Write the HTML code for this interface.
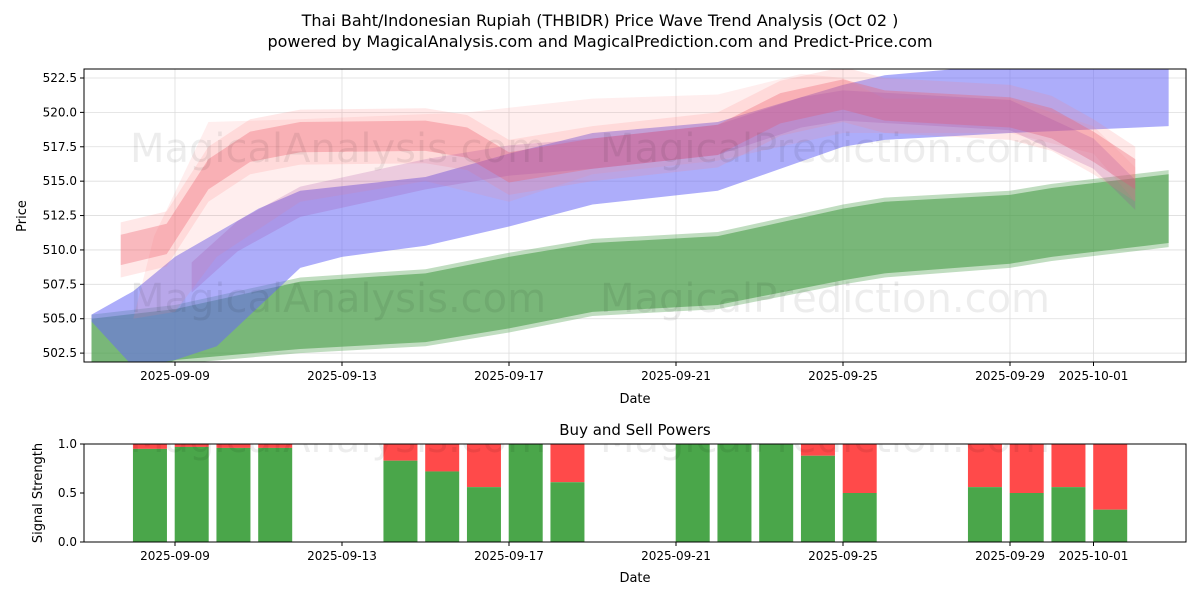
<!DOCTYPE html>
<html><head><meta charset="utf-8"><style>
body{margin:0;background:#fff;font-family:"Liberation Sans","DejaVu Sans",sans-serif}
svg text{font-family:"DejaVu Sans","Liberation Sans",sans-serif;fill:#000}
</style></head><body>
<svg id="c" width="1200" height="600" xmlns="http://www.w3.org/2000/svg">
<text x="600" y="26" font-size="16" text-anchor="middle">Thai Baht/Indonesian Rupiah (THBIDR) Price Wave Trend Analysis (Oct 02 )</text>
<text x="600" y="47" font-size="16" text-anchor="middle">powered by MagicalAnalysis.com and MagicalPrediction.com and Predict-Price.com</text>
<g id="topg"></g>
<g id="botg"></g>
</svg>
<script>
// Price data: [dayOffsetFromSep9, value]
const greenUpper=[[-2,505],[0,505.7],[3,507.7],[6,508.3],[8,509.5],[10,510.5],[13,511],[16,513],[17,513.5],[20,514],[21,514.5],[23.8,515.5]];
const greenLower=[[-2,499],[0,502],[3,502.8],[6,503.3],[8,504.3],[10,505.5],[13,506],[16,507.8],[17,508.3],[20,509],[21,509.5],[23.8,510.5]];
const blueUpper=[[-2,505.3],[-1,507],[0,509.5],[2,513],[3,514.3],[6,515.3],[8,517],[10,518.5],[13,519.3],[16,522],[17,522.7],[20,523.5],[23.8,523.5]];
const blueLower=[[-2,504.8],[-1,501.5],[0,502],[1,503],[3,508.7],[4,509.5],[6,510.3],[8,511.7],[10,513.3],[13,514.3],[16,517.5],[17,518],[20,518.5],[23.8,519]];
const pinkUpper=[[-0.5,511],[0.8,519.3],[3,519.5],[7,520],[10,521],[13,521.3],[15,522.8],[16,522.5],[17,521],[20,521],[22,519],[23,516]];
const pinkLower=[[-1,505],[0,505.5],[1,509.5],[3,513.5],[6,515],[8,513.5],[10,515.5],[13,516.5],[16,518.5],[20,518.5],[22,517],[23,513.5]];
const redCenter=[[-1.3,510],[-0.2,510.8],[0.8,515.5],[1.8,517.5],[3,518.2],[6,518.3],[7,517.8],[8,516],[10,517],[13,518],[14.5,520.3],[16,521.3],[17,520.5],[20,520],[21,519.2],[22,517.5],[23,515.5]];
const purpleCenter=[[0.4,508],[1.5,511],[3,513.5],[6,515.5],[8,516.5],[10,517],[13,518],[15,520],[16,520.5],[20,519.8],[22,517],[23,514]];
const yTicks=[502.5,505,507.5,510,512.5,515,517.5,520,522.5];
const xTickDays=[0,4,8,12,16,20,22];
const xTickLabels=["2025-09-09","2025-09-13","2025-09-17","2025-09-21","2025-09-25","2025-09-29","2025-10-01"];
// Signal data
const barDays=[-0.6,0.4,1.4,2.4,5.4,6.4,7.4,8.4,9.4,12.4,13.4,14.4,15.4,16.4,19.4,20.4,21.4,22.4];
const buyPower=[0.95,0.97,0.96,0.96,0.83,0.72,0.56,1,0.61,1,1,1,0.88,0.5,0.56,0.5,0.56,0.33];
const sigTicks=[0,0.5,1];

const NS="http://www.w3.org/2000/svg";
const L=84,R=1186,T=69,B=362,BT=444,BB=542;
const xs=d=>175+d*41.75;
const ys=v=>78+(522.5-v)*13.755;
const ys2=v=>BB-v*(BB-BT);
function mk(p,tag,at){const e=document.createElementNS(NS,tag);for(const k in at)e.setAttribute(k,at[k]);p.appendChild(e);return e;}
const topG=document.getElementById('topg'),botG=document.getElementById('botg');
const cp=mk(topG,'clipPath',{id:'cp'});mk(cp,'rect',{x:L,y:T,width:R-L,height:B-T});
const cp2=mk(botG,'clipPath',{id:'cp2'});mk(cp2,'rect',{x:L,y:BT,width:R-L,height:BB-BT});
for(const v of yTicks){const g=mk(topG,'line',{x1:L,x2:R,y1:ys(v),y2:ys(v),stroke:'#ddd','stroke-width':0.8});

}
xTickDays.forEach(d=>{const g=mk(topG,'line',{x1:xs(d),x2:xs(d),y1:T,y2:B,stroke:'#ddd','stroke-width':0.8});

});
const gc=mk(topG,'g',{'clip-path':'url(#cp)'});
function band(up,lo,fill,op,name){const pts=up.map(p=>xs(p[0])+','+ys(p[1])).concat(lo.slice().reverse().map(p=>xs(p[0])+','+ys(p[1])));
const e=mk(gc,'polygon',{points:pts.join(' '),fill:fill,'fill-opacity':op});

}
function cband(c,h,fill,op,name){band(c.map(p=>[p[0],p[1]+h]),c.map(p=>[p[0],p[1]-h]),fill,op,name);}
band(greenUpper.map(p=>[p[0],p[1]+0.3]),greenLower.map(p=>[p[0],p[1]-0.3]),'#4a9e4a',0.35,'green-band-outer');
band(greenUpper,greenLower,'#4a9e4a',0.6,'green-band');
band(blueUpper,blueLower,'#6a6af5',0.55,'blue-band');
band(pinkUpper,pinkLower,'#ff8a8a',0.14,'pink-band');
cband(redCenter,2,'#ff8080',0.18,'red-band-outer');
cband(redCenter,1.1,'#ee6070',0.35,'red-band');
cband(purpleCenter,1.1,'#a040a0',0.2,'purple-band');
[[130,162],[600,162],[130,312],[600,312]].forEach((p,i)=>{const t=mk(topG,'text',{x:p[0],y:p[1],'font-size':40,fill:'#999','fill-opacity':0.07});t.textContent=(i%2)?'MagicalPrediction.com':'MagicalAnalysis.com';

});
mk(topG,'rect',{x:L,y:T,width:R-L,height:B-T,fill:'none',stroke:'#000','stroke-width':1});
for(const v of yTicks){mk(topG,'line',{x1:L-4,x2:L,y1:ys(v),y2:ys(v),stroke:'#000'});
const t=mk(topG,'text',{x:L-7,y:ys(v)+4,'font-size':12,'text-anchor':'end'});t.textContent=v.toFixed(1);

}
xTickDays.forEach((d,i)=>{mk(topG,'line',{x1:xs(d),x2:xs(d),y1:B,y2:B+4,stroke:'#000'});
const t=mk(topG,'text',{x:xs(d),y:B+18,'font-size':12,'text-anchor':'middle'});t.textContent=xTickLabels[i];

});
let t=mk(topG,'text',{x:635,y:403,'font-size':13,'text-anchor':'middle'});t.textContent='Date';


t=mk(topG,'text',{x:26,y:216,'font-size':13,'text-anchor':'middle',transform:'rotate(-90 26 216)'});t.textContent='Price';


t=mk(botG,'text',{x:635,y:435,'font-size':15,'text-anchor':'middle'});t.textContent='Buy and Sell Powers';


const gb=mk(botG,'g',{'clip-path':'url(#cp2)'});
barDays.forEach((d,i)=>{const x=xs(d)-17,v=buyPower[i];
const s=mk(gb,'rect',{x:x,y:BT,width:34,height:ys2(v)-BT,fill:'#ff4a4a'});


const b=mk(gb,'rect',{x:x,y:ys2(v),width:34,height:BB-ys2(v),fill:'#4aa64a'});

});
[[130,452],[600,452]].forEach((p,i)=>{const w=mk(gb,'text',{x:p[0],y:p[1],'font-size':40,fill:'#999','fill-opacity':0.07});w.textContent=i?'MagicalPrediction.com':'MagicalAnalysis.com';

});
mk(botG,'rect',{x:L,y:BT,width:R-L,height:BB-BT,fill:'none',stroke:'#000'});
sigTicks.forEach(v=>{mk(botG,'line',{x1:L-4,x2:L,y1:ys2(v),y2:ys2(v),stroke:'#000'});
const e=mk(botG,'text',{x:L-7,y:ys2(v)+4,'font-size':12,'text-anchor':'end'});e.textContent=v.toFixed(1);

});
xTickDays.forEach((d,i)=>{mk(botG,'line',{x1:xs(d),x2:xs(d),y1:BB,y2:BB+4,stroke:'#000'});
const e=mk(botG,'text',{x:xs(d),y:BB+18,'font-size':12,'text-anchor':'middle'});e.textContent=xTickLabels[i];

});
t=mk(botG,'text',{x:635,y:582,'font-size':13,'text-anchor':'middle'});t.textContent='Date';


t=mk(botG,'text',{x:42,y:493,'font-size':13,'text-anchor':'middle',transform:'rotate(-90 42 493)'});t.textContent='Signal Strength';


</script>
</body></html>
